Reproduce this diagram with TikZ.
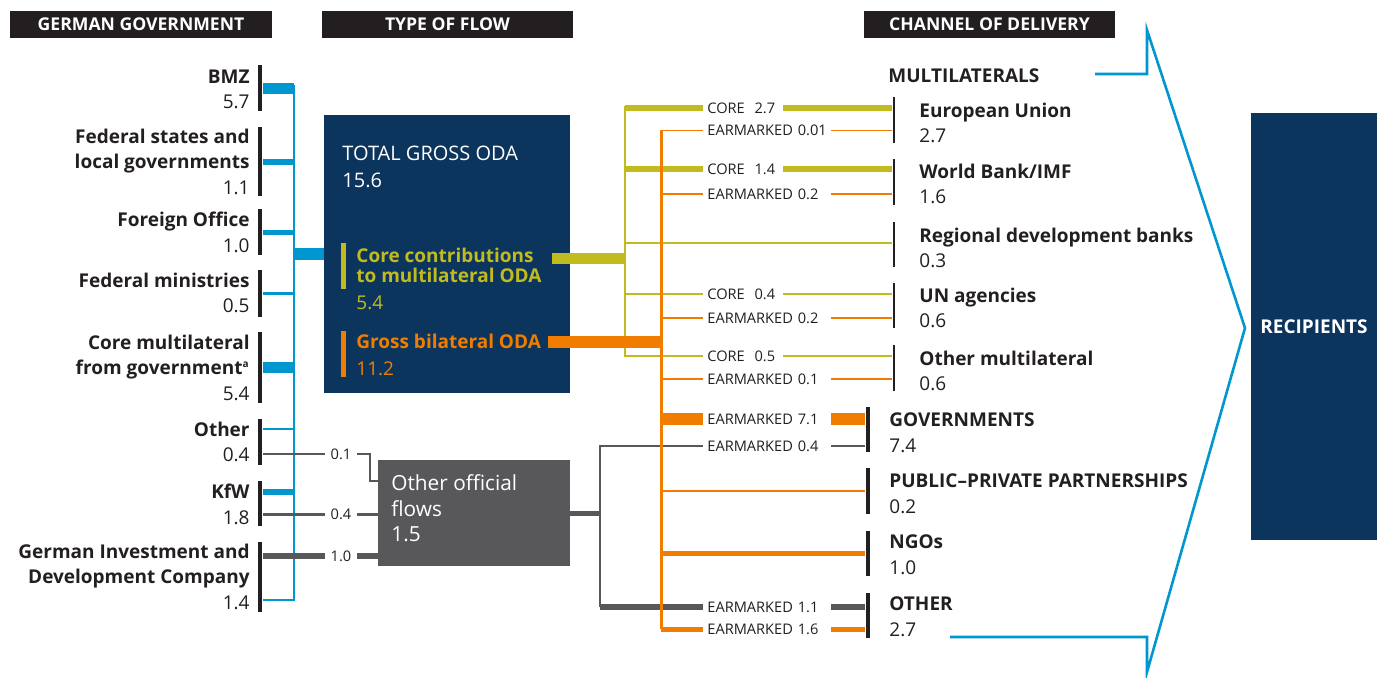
\documentclass[tikz,border=0pt]{standalone}
\usepackage{fontspec}
\setmainfont{Open Sans}
\usetikzlibrary{positioning, calc}
\definecolor{ink}{HTML}{231F20}
\definecolor{navy}{HTML}{0C355E}
\definecolor{sky}{HTML}{0096D0}
\definecolor{olv}{HTML}{C1BB1F}
\definecolor{orng}{HTML}{F07D00}
\definecolor{slate}{HTML}{58585A}

\begin{document}
\begin{tikzpicture}[x=0.5pt, y=-0.5pt,
  every node/.style={inner sep=0pt, text=ink, font=\fontsize{9.5}{12.75}\selectfont},
  hd/.style={fill=ink, text=white, font=\fontsize{8.8}{10}\selectfont\bfseries, minimum width=125.5pt, minimum height=13.5pt},
  src/.style={anchor=north east, align=right},
  dst/.style={anchor=north west, align=left},
  vb/.style={fill=ink, minimum width=2.4pt},
  cb/.style={fill=ink, minimum width=1.2pt},
  tg/.style={fill=white, anchor=west, inner xsep=2pt, inner ysep=1.6pt, align=left, font=\fontsize{7.3}{8}\selectfont},
  core/.style={tg, text width=36pt},
  ear/.style={tg, text width=60pt},
  amt/.style={fill=white, inner xsep=3pt, inner ysep=1.5pt, font=\fontsize{7.3}{8}\selectfont}]

\useasboundingbox (0,0) rectangle (1377,677);

% column heads
\node[hd, minimum width=131pt] (hgov) at (141,24) {GERMAN GOVERNMENT};
\node[hd] (hflow) at (447.5,24) {TYPE OF FLOW};
\node[hd] (hchan) at (989.5,24) {CHANNEL OF DELIVERY};

% donors
\node[src] (bmzT) at (250,69.4) {\textbf{BMZ}\\5.7};
\node[src] (fstT) at (250,128.6) {\textbf{Federal states and}\\\textbf{local governments}\\1.1};
\node[src] (foT) at (250,211.6) {\textbf{Foreign Office}\\1.0};
\node[src] (fmT) at (250,272.6) {\textbf{Federal ministries}\\0.5};
\node[src] (cmlT) at (250,334.6) {\textbf{Core multilateral}\\\textbf{from government\textsuperscript{\fontsize{5}{5}\selectfont a}}\\5.4};
\node[src] (othT) at (250,421.6) {\textbf{Other}\\0.4};
\node[src] (kfwT) at (250,483.6) {\textbf{KfW}\\1.8};
\node[src] (gidT) at (250,543.6) {\textbf{German Investment and}\\\textbf{Development Company}\\1.4};

\node[vb, minimum height=23pt] (bmz) at (260,88) {};
\node[vb, minimum height=34.5pt] (fst) at (260,161.5) {};
\node[vb, minimum height=23pt] (fo) at (260,232) {};
\node[vb, minimum height=23.5pt] (fm) at (260,293.5) {};
\node[vb, minimum height=35.5pt] (cml) at (260,367.5) {};
\node[vb, minimum height=23pt] (oth) at (260,442) {};
\node[vb, minimum height=22.5pt] (kfw) at (260,503.5) {};
\node[vb, minimum height=35pt] (gid) at (260,577) {};

% type of flow boxes
\node[fill=navy, minimum width=123pt, minimum height=139pt] (oda) at (447,254) {};
\node[fill=slate, minimum width=96pt, minimum height=53pt] (oof) at (474,513) {};

% government -> ODA
\coordinate (bt) at (294,85);
\draw[sky, line width=1.4pt] (gid.east |- 0,600) -| (bt);
\draw[sky, line width=5.5pt] (bmz.east) -- (bmz.east -| bt);
\draw[sky, line width=3pt] (fst.east) -- (fst.east -| bt);
\draw[sky, line width=2.5pt] (fo.east) -- (fo.east -| bt);
\draw[sky, line width=1.3pt] (fm.east) -- (fm.east -| bt);
\draw[sky, line width=5.5pt] (cml.east) -- (cml.east -| bt);
\draw[sky, line width=1.3pt] (oth.east |- 0,429) -- (bt |- 0,429);
\draw[sky, line width=3pt] (kfw.east |- 0,492) -- (bt |- 0,492);
\draw[sky, line width=6pt] (bt |- oda.west) -- (oda.west);

% government -> other official flows
\coordinate (g1) at (370,454);
\draw[slate, line width=0.8pt] (oth.east |- g1) -- (g1) |- (oof.west |- 0,481);
\draw[slate, line width=1.5pt] (kfw.east |- 0,514) -- (oof.west |- 0,514);
\draw[slate, line width=3pt] (gid.east |- 0,556) -- (oof.west |- 0,556);
\node[amt] (a01) at (341,454) {0.1};
\node[amt] (a04) at (341,514) {0.4};
\node[amt] (a10) at (341,556) {1.0};

\node[dst, text=white, font=\fontsize{10}{13.5}\selectfont] (odaT) at (342,145.7) {TOTAL GROSS ODA\\15.6};
\node[fill=olv, minimum width=2.5pt, minimum height=23pt] (ccB) at (343.5,266) {};
\node[dst, text=olv, font=\fontsize{9.5}{10}\selectfont] (ccT) at (356,247.6) {\textbf{Core contributions}\\\textbf{to multilateral ODA}\\[3.5pt]5.4};
\node[fill=orng, minimum width=2.5pt, minimum height=23pt] (bilB) at (343.5,354) {};
\node[dst, text=orng, font=\fontsize{9.5}{13.5}\selectfont] (bilT) at (356,333.6) {\textbf{Gross bilateral ODA}\\11.2};
\node[dst, text=white, font=\fontsize{10.4}{12.75}\selectfont] (oofT) at (391,474.2) {Other official\\flows\\1.5};

% channels
\node[cb, minimum height=23pt] (eu) at (894,120) {};
\node[cb, minimum height=23pt] (wb) at (894,182) {};
\node[cb, minimum height=22.5pt] (rdb) at (894,244.5) {};
\node[cb, minimum height=22.5pt] (un) at (894,305.5) {};
\node[cb, minimum height=23pt] (oml) at (894,368) {};
\node[vb, minimum height=22.5pt] (gov) at (868,429.5) {};
\node[vb, minimum height=23pt] (ppp) at (868,491) {};
\node[vb, minimum height=22.5pt] (ngo) at (868,553.5) {};
\node[vb, minimum height=22.5pt] (oth2) at (868,615.5) {};

% core contributions
\coordinate (ccx) at (552,258);
\coordinate (ot) at (625,106);
\coordinate (ob) at (625,356.5);
\draw[olv, line width=1.2pt] (ot) -- (ob);
\draw[olv, line width=5.5pt] (ccx) -- (ccx -| ot);
\draw[olv, line width=3pt] (ot |- 0,108) -- (eu.west |- 0,108);
\draw[olv, line width=3pt] (ot |- 0,169) -- (wb.west |- 0,169);
\draw[olv, line width=1pt] (ot |- 0,243) -- (rdb.west |- 0,243);
\draw[olv, line width=0.8pt] (ot |- 0,294) -- (un.west |- 0,294);
\draw[olv, line width=0.8pt] (ot |- 0,356) -- (oml.west |- 0,356);

% other official flows
\coordinate (gt) at (600,446);
\coordinate (gb) at (600,607);
\draw[slate, line width=2.5pt] (oof.east) -- (oof.east -| gt);
\draw[slate, line width=1.2pt] (gov.west |- gt) -- (gt) -- (gb);
\draw[slate, line width=3pt] (gb) -- (oth2.west |- gb);

% bilateral
\coordinate (bilx) at (548,342);
\coordinate (rt) at (661,130);
\coordinate (rb) at (661,629);
\draw[orng, line width=6pt] (bilx) -- (bilx -| rt);
\draw[orng, line width=0.5pt] (eu.west |- rt) -- (rt);
\draw[orng, line width=1.5pt] (rt) -- (rb);
\draw[orng, line width=1pt] (rt |- 0,194) -- (wb.west |- 0,194);
\draw[orng, line width=1pt] (rt |- 0,318) -- (un.west |- 0,318);
\draw[orng, line width=1pt] (rt |- 0,379) -- (oml.west |- 0,379);
\draw[orng, line width=6pt] (rt |- 0,419) -- (gov.west |- 0,419);
\draw[orng, line width=1pt] (rt |- ppp.west) -- (ppp.west);
\draw[orng, line width=2.5pt] (rt |- ngo.west) -- (ngo.west);
\draw[orng, line width=2.5pt] (rb) -- (oth2.west |- rb);

\node[core] (t1) at (703,108) {CORE\ \ 2.7};
\node[ear] (t2) at (703,130) {EARMARKED 0.01};
\node[core] (t3) at (703,169) {CORE\ \ 1.4};
\node[ear] (t4) at (703,194) {EARMARKED 0.2};
\node[core] (t5) at (703,294) {CORE\ \ 0.4};
\node[ear] (t6) at (703,318) {EARMARKED 0.2};
\node[core] (t7) at (703,356) {CORE\ \ 0.5};
\node[ear] (t8) at (703,379) {EARMARKED 0.1};
\node[ear] (t9) at (703,419) {EARMARKED 7.1};
\node[ear] (t10) at (703,446) {EARMARKED 0.4};
\node[ear] (t11) at (703,607) {EARMARKED 1.1};
\node[ear] (t12) at (703,629) {EARMARKED 1.6};

\node[dst] (mltT) at (888,68.4) {\textbf{MULTILATERALS}};
\node[dst] (euT) at (919,102.6) {\textbf{European Union}\\2.7};
\node[dst] (wbT) at (919,163.6) {\textbf{World Bank/IMF}\\1.6};
\node[dst] (rdbT) at (919,227.6) {\textbf{Regional development banks}\\0.3};
\node[dst] (unT) at (919,287.6) {\textbf{UN agencies}\\0.6};
\node[dst] (omlT) at (919,350.6) {\textbf{Other multilateral}\\0.6};
\node[dst] (govT) at (889,412.4) {\textbf{GOVERNMENTS}\\7.4};
\node[dst] (pppT) at (889,473.4) {\textbf{PUBLIC--PRIVATE PARTNERSHIPS}\\0.2};
\node[dst] (ngoT) at (889,534.4) {\textbf{NGOs}\\1.0};
\node[dst] (othT2) at (889,596.4) {\textbf{OTHER}\\2.7};

% recipients
\coordinate (cv1) at (1095,74);
\coordinate (cv2) at (1147,74);
\coordinate (cv3) at (1147,30);
\coordinate (cv4) at (1245,328);
\coordinate (cv5) at (1147,672);
\coordinate (cv6) at (1147,637);
\coordinate (cv7) at (950,637);
\draw[sky, line width=1.3pt] (cv1) -- (cv2) -- (cv3) -- (cv4) -- (cv5) -- (cv6) -- (cv7);
\node[fill=navy, text=white, minimum width=63pt, minimum height=213.5pt] (rec) at (1314,326.5) {\textbf{RECIPIENTS}};
\end{tikzpicture}
\end{document}
